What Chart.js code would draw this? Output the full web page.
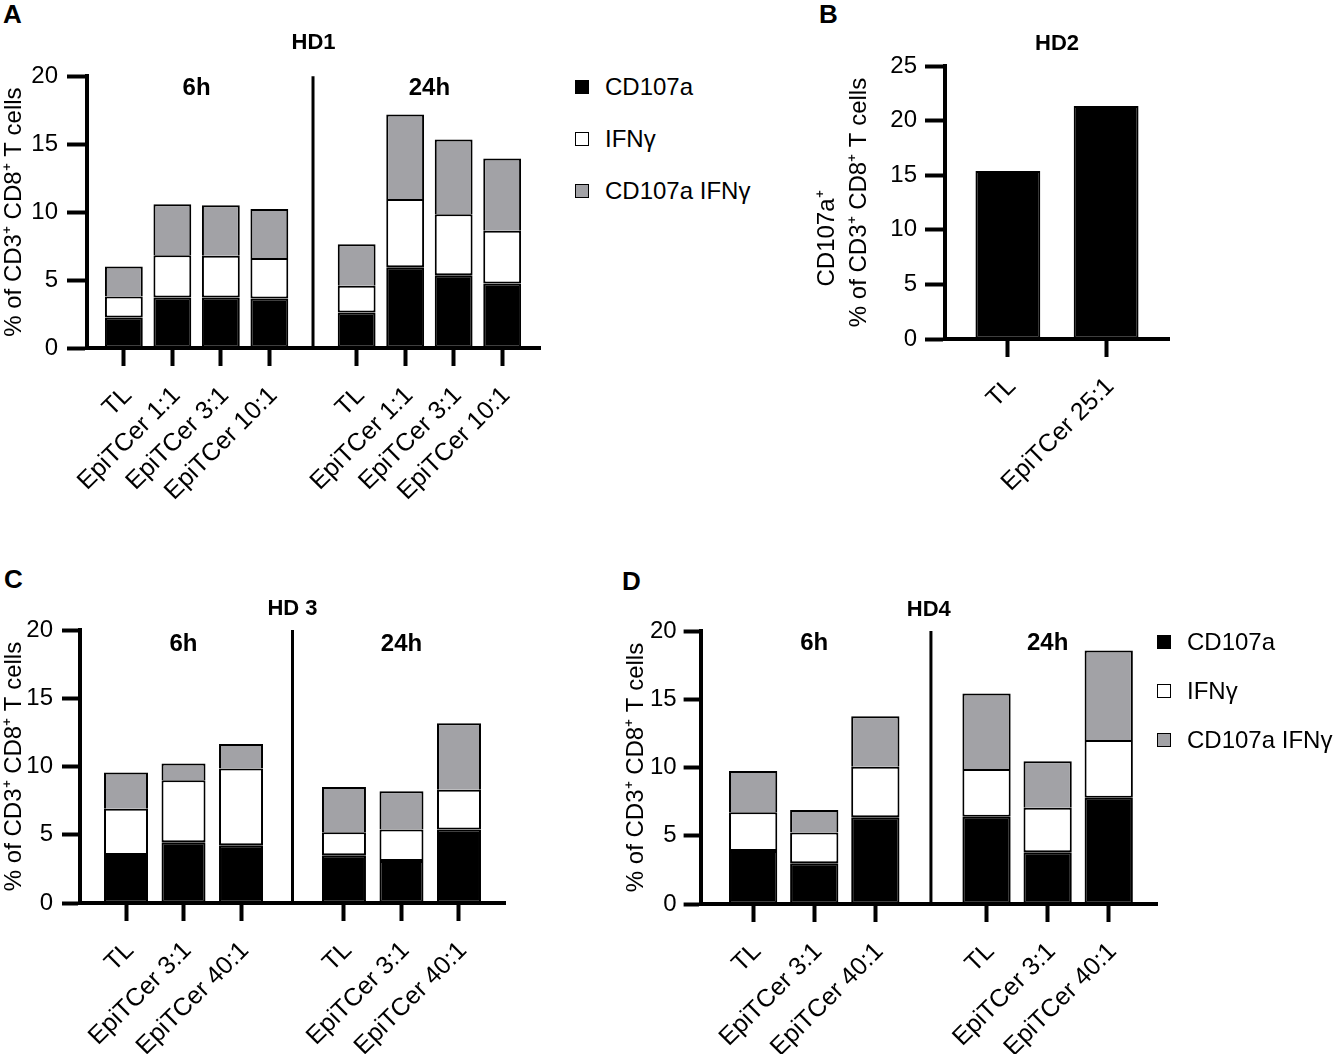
<!DOCTYPE html>
<html>
<head>
<meta charset="utf-8">
<script src="https://cdn.jsdelivr.net/npm/chart.js@4.4.1/dist/chart.umd.min.js"></script>
<style>
  body { margin: 0; background: #fff; font-family: 'Liberation Sans', Arial, sans-serif; }
  #page { position: relative; width: 1334px; height: 1054px; overflow: hidden; }
  .panel { position: absolute; }
  .letter { position: absolute; font-weight: bold; font-size: 26px; line-height: 26px; }
  .legend { position: absolute; font-size: 24px; z-index: 2; }
  .legend div { display: flex; align-items: center; white-space: nowrap; }
  .legend span.box { display: inline-block; width: 12px; height: 12px; border: 1.5px solid #000; margin-right: 16px; }
</style>
</head>
<body>
<div id="page">
  <div class="letter" style="left:3px;top:1px">A</div>
  <div class="letter" style="left:819px;top:1px">B</div>
  <div class="letter" style="left:4px;top:566px">C</div>
  <div class="letter" style="left:622px;top:568px">D</div>
  <div class="panel" style="left:0px;top:0px;width:570px;height:540px"><canvas id="hd1"></canvas></div>
  <div class="panel" style="left:800px;top:0px;width:400px;height:530px"><canvas id="hd2"></canvas></div>
  <div class="panel" style="left:0px;top:560px;width:530px;height:494px"><canvas id="hd3"></canvas></div>
  <div class="panel" style="left:622px;top:560px;width:555px;height:494px"><canvas id="hd4"></canvas></div>
  <div class="legend" id="legA" style="left:575px;top:61px"></div>
  <div class="legend" id="legD" style="left:1157px;top:617px"></div>
</div>
<script>
// series and categories
var seriesNames = ['CD107a', 'IFNγ', 'CD107a IFNγ'];
var groupNames = ['6h', '24h'];
var yTitle = '% of CD3⁺ CD8⁺ T cells';

var hd1Labels = ['TL', 'EpiTCer 1:1', 'EpiTCer 3:1', 'EpiTCer 10:1', 'TL', 'EpiTCer 1:1', 'EpiTCer 3:1', 'EpiTCer 10:1'];
var hd1CD107a = [2.25, 3.72, 3.72, 3.65, 2.62, 5.95, 5.36, 4.75];
var hd1IFNg   = [1.54, 3.11, 3.06, 2.98, 1.96, 5.02, 4.48, 3.87];
var hd1Double = [2.21, 3.75, 3.72, 3.60, 3.06, 6.22, 5.51, 5.33];

var hd2Labels = ['TL', 'EpiTCer 25:1'];
var hd2CD107a = [15.38, 21.34];

var hd3Labels = ['TL', 'EpiTCer 3:1', 'EpiTCer 40:1', 'TL', 'EpiTCer 3:1', 'EpiTCer 40:1'];
var hd3CD107a = [3.52, 4.45, 4.23, 3.50, 3.08, 5.38];
var hd3IFNg   = [3.38, 4.55, 5.63, 1.69, 2.30, 2.91];
var hd3Double = [2.66, 1.22, 1.78, 3.30, 2.81, 4.87];

var hd4Labels = ['TL', 'EpiTCer 3:1', 'EpiTCer 40:1', 'TL', 'EpiTCer 3:1', 'EpiTCer 40:1'];
var hd4CD107a = [3.88, 2.98, 6.35, 6.40, 3.79, 7.79];
var hd4IFNg   = [2.84, 2.25, 3.71, 3.49, 3.27, 4.22];
var hd4Double = [3.02, 1.66, 3.69, 5.54, 3.39, 6.57];

var fillColors = ['#000000', '#ffffff', '#a2a2a6'];

Chart.defaults.font.family = "'Liberation Sans', Arial, sans-serif";
Chart.defaults.color = '#000';

// divider line + 6h / 24h labels
var groupMarks = {
  id: 'groupMarks',
  afterDatasetsDraw(chart, args, opts) {
    if (!opts.names) return;
    const ctx = chart.ctx, area = chart.chartArea, x = chart.scales.x;
    ctx.save();
    ctx.strokeStyle = '#000';
    ctx.lineWidth = 3;
    opts.dividers.forEach(v => {
      const px = x.getPixelForValue(v);
      ctx.beginPath();
      ctx.moveTo(px, area.top);
      ctx.lineTo(px, area.bottom + 2);
      ctx.stroke();
    });
    ctx.font = "bold 24px 'Liberation Sans', Arial, sans-serif";
    ctx.textAlign = 'center';
    ctx.textBaseline = 'middle';
    ctx.fillStyle = '#000';
    opts.names.forEach((n, g) => {
      ctx.fillText(n, x.getPixelForValue(opts.centers[g]), area.top + opts.dy);
    });
    ctx.restore();
  }
};

function makeChart(id, title, labels, series, lay) {
  const n = lay.perGroup;
  const xs = labels.map((_, i) => Math.floor(i / n) * (n + lay.gap) + i % n);
  const groups = Math.ceil(labels.length / n);
  const centers = [], dividers = [];
  for (let g = 0; g < groups; g++) {
    centers.push(g * (n + lay.gap) + (n - 1) / 2);
    if (g > 0) dividers.push(((g * (n + lay.gap) - 1 - lay.gap) + g * (n + lay.gap)) / 2);
  }
  const datasets = series.map((vals, k) => ({
    label: seriesNames[k],
    data: vals.map((v, i) => ({ x: xs[i], y: v })),
    backgroundColor: fillColors[k],
    borderColor: '#000',
    borderWidth: k === 2 ? { top: 2, left: 2, right: 2, bottom: 0 } : 2,
    borderSkipped: false,
    barPercentage: lay.bar,
    categoryPercentage: 1
  }));
  return new Chart(document.getElementById(id), {
    type: 'bar',
    data: { datasets: datasets },
    plugins: [groupMarks],
    options: {
      responsive: true,
      maintainAspectRatio: false,
      animation: false,
      events: [],
      layout: { padding: { left: 0, right: lay.padR, top: 0, bottom: 0 } },
      plugins: {
        legend: { display: false },
        tooltip: { enabled: false },
        title: {
          display: true, text: title, fullSize: false, color: '#000',
          font: { size: 22, weight: 'bold', lineHeight: 1.2 },
          padding: { top: lay.tpt, bottom: lay.tpb }
        },
        groupMarks: groups > 1 ? { names: groupNames, centers: centers, dividers: dividers, dy: lay.dy } : {}
      },
      scales: {
        x: {
          type: 'linear',
          offset: false,
          stacked: true,
          min: -lay.edgeL,
          max: xs[xs.length - 1] + lay.edgeR,
          afterBuildTicks: s => { s.ticks = xs.map(v => ({ value: v })); },
          afterFit: s => { s.height = lay.xh; },
          ticks: {
            autoSkip: false, minRotation: 45, maxRotation: 45, padding: 15, labelOffset: 4,
            font: { size: 25 }, color: '#000',
            callback: (v, i) => labels[i]
          },
          grid: { offset: false, drawOnChartArea: false, drawTicks: true, tickLength: 18, tickWidth: 4, tickColor: '#000' },
          border: { display: true, color: '#000', width: 4 }
        },
        y: {
          stacked: true,
          min: 0,
          max: lay.ymax,
          afterFit: s => { s.width = lay.yw; },
          ticks: { stepSize: 5, padding: lay.tpad, font: { size: 24 }, color: '#000' },
          grid: { drawOnChartArea: false, drawTicks: true, tickLength: lay.tl, tickWidth: 4, tickColor: '#000' },
          border: { display: true, color: '#000', width: 4 },
          title: {
            display: true, text: lay.ytext, color: '#000',
            font: { size: 24, lineHeight: lay.ylh },
            padding: { top: lay.ytp, bottom: 0 }
          }
        }
      }
    }
  });
}

function htmlLegend(chart, el) {
  chart.data.datasets.forEach(ds => {
    const row = document.createElement('div');
    row.style.height = el.dataset.step + 'px';
    const box = document.createElement('span');
    box.className = 'box';
    box.style.background = ds.backgroundColor;
    row.appendChild(box);
    row.appendChild(document.createTextNode(ds.label));
    el.appendChild(row);
  });
}

var chartA = makeChart('hd1', 'HD1', hd1Labels, [hd1CD107a, hd1IFNg, hd1Double], {
  perGroup: 4, gap: 0.8, edgeL: 0.76, edgeR: 0.78, bar: 0.78, ymax: 20,
  yw: 87, xh: 192, padR: 30, tpt: 29.4, tpb: 20.4, dy: 12, tpad: 9, tl: 20,
  ytext: yTitle, ylh: 1.2, ytp: 0
});
var chartB = makeChart('hd2', 'HD2', hd2Labels, [hd2CD107a], {
  perGroup: 2, gap: 0, edgeL: 0.64, edgeR: 0.64, bar: 0.66, ymax: 25,
  yw: 145, xh: 191, padR: 31, tpt: 30.8, tpb: 8.8, dy: 0, tpad: 8, tl: 20,
  ytext: ['CD107a⁺\u2003\u2003\u2003', yTitle], ylh: 1.33, ytp: 11
});
var chartC = makeChart('hd3', 'HD 3', hd3Labels, [hd3CD107a, hd3IFNg, hd3Double], {
  perGroup: 3, gap: 0.79, edgeL: 0.8, edgeR: 0.8, bar: 0.765, ymax: 20,
  yw: 80, xh: 151, padR: 25, tpt: 35.8, tpb: 7.8, dy: 14, tpad: 9, tl: 18,
  ytext: yTitle, ylh: 1.2, ytp: 0
});
var chartD = makeChart('hd4', 'HD4', hd4Labels, [hd4CD107a, hd4IFNg, hd4Double], {
  perGroup: 3, gap: 0.82, edgeL: 0.86, edgeR: 0.79, bar: 0.79, ymax: 20,
  yw: 78.6, xh: 150, padR: 20, tpt: 36.8, tpb: 7.8, dy: 12, tpad: 7, tl: 17,
  ytext: yTitle, ylh: 1.2, ytp: 0
});

var legA = document.getElementById('legA');
legA.dataset.step = 52;
htmlLegend(chartA, legA);
var legD = document.getElementById('legD');
legD.dataset.step = 49;
htmlLegend(chartD, legD);
</script>
</body>
</html>
